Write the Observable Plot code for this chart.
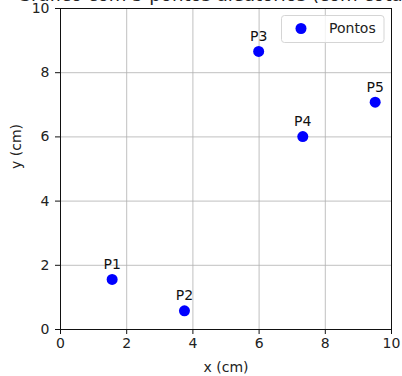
<!DOCTYPE html>
<html>
<head>
<meta charset="utf-8">
<script src="https://cdn.jsdelivr.net/npm/d3@7"></script>
<script src="https://cdn.jsdelivr.net/npm/@observablehq/plot@0.6"></script>
<style>
  html, body { margin: 0; padding: 0; background: white; overflow: hidden; }
  svg { display: block; }
</style>
</head>
<body>
<div id="chart"></div>
<script>
const title = "Gráfico com 5 pontos aleatórios (com cotas)";
const labels = ["P1", "P2", "P3", "P4", "P5"];
const xValues = [1.560, 3.745, 5.987, 7.320, 9.507];
const yValues = [1.560, 0.581, 8.662, 6.011, 7.081];
const xTicks = [0, 2, 4, 6, 8, 10];
const yTicks = [0, 2, 4, 6, 8, 10];
const xLabel = "x (cm)";
const yLabel = "y (cm)";
const legendLabel = "Pontos";

const points = labels.map((l, i) => ({label: l, x: xValues[i], y: yValues[i]}));

const font = "DejaVu Sans, sans-serif";
const plot = Plot.plot({
  width: 402,
  height: 376,
  marginLeft: 60,
  marginRight: 11,
  marginTop: 8,
  marginBottom: 47,
  style: {fontFamily: font, fontSize: "14px", color: "#222", background: "white", overflow: "visible"},
  x: {domain: [0, 10], label: null},
  y: {domain: [0, 10], label: null},
  marks: [
    Plot.gridX(xTicks, {stroke: "#b0b0b0", strokeOpacity: 1, strokeWidth: 0.8}),
    Plot.gridY(yTicks, {stroke: "#b0b0b0", strokeOpacity: 1, strokeWidth: 0.8}),
    Plot.frame({stroke: "#111", strokeWidth: 1}),
    Plot.axisX(xTicks, {tickSize: 5, tickPadding: 4, fontSize: 14, label: null, stroke: "#111"}),
    Plot.axisY(yTicks, {tickSize: 5, tickPadding: 6, fontSize: 14, label: null, stroke: "#111"}),
    Plot.text([xLabel], {frameAnchor: "bottom", dy: 42, fontSize: 14, fill: "#222"}),
    Plot.text([yLabel], {frameAnchor: "left", dx: -44, rotate: -90, fontSize: 14, fill: "#222"}),
    Plot.dot(points, {x: "x", y: "y", r: 5.5, fill: "blue", stroke: "none"}),
    Plot.text(points, {x: "x", y: "y", text: "label", dy: -15, fontSize: 14, fill: "#111"})
  ]
});

const svg = d3.select(plot);
svg.append("text")
  .attr("x", 17).attr("y", 0.8)
  .attr("text-anchor", "start")
  .attr("font-family", font).attr("font-size", 18.1).attr("fill", "#222")
  .text(title);

const lg = svg.append("g");
lg.append("rect")
  .attr("x", 281.5).attr("y", 15.5).attr("width", 102.5).attr("height", 27)
  .attr("rx", 3).attr("fill", "white").attr("fill-opacity", 0.8)
  .attr("stroke", "#d5d5d5").attr("stroke-width", 1);
lg.append("circle").attr("cx", 301).attr("cy", 28.5).attr("r", 5.5).attr("fill", "blue");
lg.append("text").attr("x", 329).attr("y", 28.5).attr("dy", "0.35em")
  .attr("text-anchor", "start")
  .attr("font-family", font).attr("font-size", 14).attr("fill", "#222")
  .text(legendLabel);

document.getElementById("chart").appendChild(plot);
</script>
</body>
</html>
